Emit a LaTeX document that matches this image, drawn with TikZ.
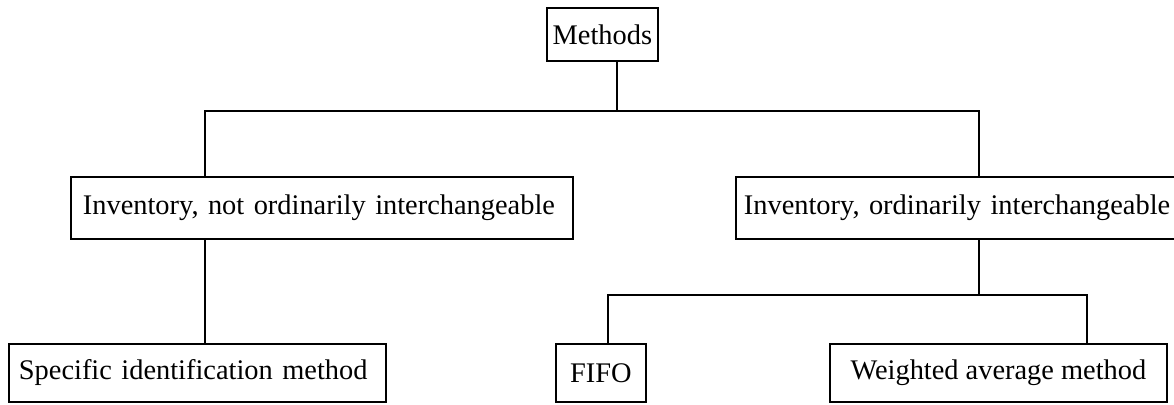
\documentclass[tikz,border=0pt]{standalone}
\usepackage{fontspec}
\setmainfont{Liberation Serif}
\begin{document}
\begin{tikzpicture}[x=1pt, y=-1pt,
  box/.style={draw, line width=1.8pt, rectangle, anchor=north west,
    inner ysep=0pt, font=\fontsize{28.4pt}{34pt}\selectfont},
  link/.style={line width=1.8pt}]
\useasboundingbox (0,0) rectangle (1174,404);
\clip (0,0) rectangle (1174,404);

% boxes (north-west corner, size)
\node[box, minimum width=111pt, minimum height=53pt, inner xsep=0pt]
  (methods) at (546,7) {Methods};
\node[box, text width=478pt, inner xsep=12pt, minimum height=62pt, align=left]
  (inv1) at (70,176) {Inventory, not ordinarily interchangeable};
\node[box, text width=434pt, inner xsep=8pt, minimum height=62pt, align=left]
  (inv2) at (735,176) {Inventory, ordinarily interchangeable};
\node[box, text width=357pt, inner xsep=10pt, minimum height=58pt, align=left]
  (spec) at (8,343) {Specific identification method};
\node[box, minimum width=90pt, minimum height=58pt, inner xsep=0pt]
  (fifo) at (555,343) {FIFO};
\node[box, minimum width=337pt, minimum height=58pt, inner xsep=0pt]
  (wavg) at (829,343) {Weighted average method};

% junction points of the tree
\coordinate (top) at (617,111);
\coordinate (aL)  at (205,111);
\coordinate (aR)  at (979,111);
\coordinate (bM)  at (979,295);
\coordinate (bL)  at (608,295);
\coordinate (bR)  at (1087,295);

% first level
\draw[link] (top |- methods.south) -- (top);
\draw[link] (aL |- inv1.north) -- (aL) -- (aR) -- (aR |- inv2.north);

% left branch
\draw[link] (aL |- inv1.south) -- (aL |- spec.north);

% right branch
\draw[link] (bM |- inv2.south) -- (bM);
\draw[link] (bL |- fifo.north) -- (bL) -- (bR) -- (bR |- wavg.north);
\end{tikzpicture}
\end{document}
